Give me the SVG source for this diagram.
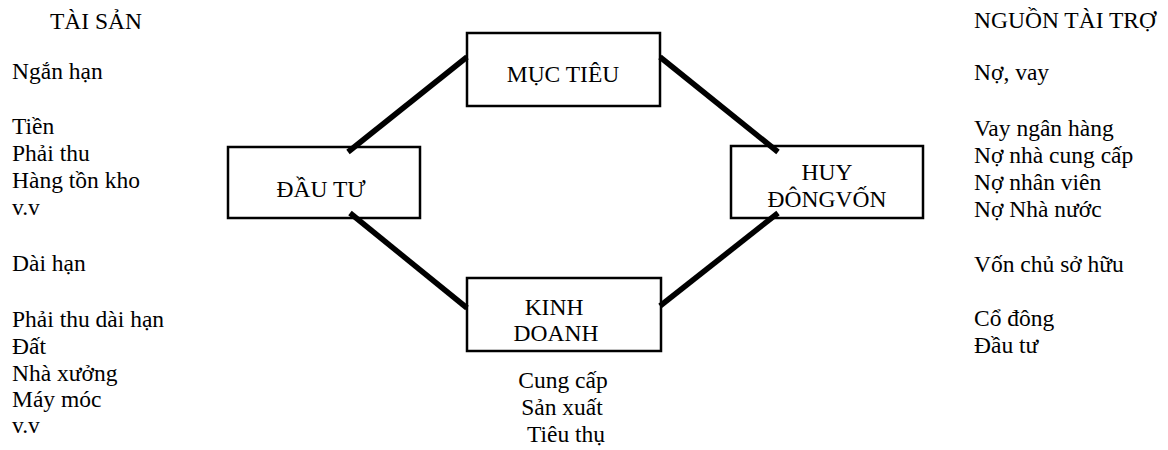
<svg xmlns="http://www.w3.org/2000/svg" width="1168" height="450" viewBox="0 0 1168 450">
<style>
text{font-family:"Liberation Serif","Times New Roman",serif;font-size:23.5px;fill:#000}
.box{fill:#fff;stroke:#000;stroke-width:2.5}
.c{text-anchor:middle}
.conn line{stroke:#000;stroke-width:5.5;stroke-linecap:butt}
</style>
<rect width="1168" height="450" fill="#fff"/>
<g id="left-col">
<text x="50" y="29">TÀI SẢN</text>
<text x="12" y="79">Ngắn hạn</text>
<text x="12" y="134">Tiền</text>
<text x="12" y="161">Phải thu</text>
<text x="12" y="188">Hàng tồn kho</text>
<text x="12" y="215">v.v</text>
<text x="12" y="271">Dài hạn</text>
<text x="12" y="327">Phải thu dài hạn</text>
<text x="12" y="354">Đất</text>
<text x="12" y="381">Nhà xưởng</text>
<text x="12" y="407">Máy móc</text>
<text x="12" y="433">v.v</text>
</g>
<g id="right-col">
<text x="974" y="28">NGUỒN TÀI TRỢ</text>
<text x="974" y="80">Nợ, vay</text>
<text x="974" y="136">Vay ngân hàng</text>
<text x="974" y="163">Nợ nhà cung cấp</text>
<text x="974" y="190">Nợ nhân viên</text>
<text x="974" y="217">Nợ Nhà nước</text>
<text x="974" y="272">Vốn chủ sở hữu</text>
<text x="974" y="326">Cổ đông</text>
<text x="974" y="353">Đầu tư</text>
</g>
<g id="node-muc-tieu">
<rect class="box" x="467" y="33" width="193" height="73"/>
<text class="c" x="563" y="82">MỤC TIÊU</text>
</g>
<g id="node-dau-tu">
<rect class="box" x="228" y="147" width="192" height="71"/>
<text class="c" x="321" y="197">ĐẦU TƯ</text>
</g>
<g id="node-huy-dong-von">
<rect class="box" x="731" y="146" width="192" height="72"/>
<text class="c" x="827" y="180">HUY</text>
<text class="c" x="827" y="207">ĐÔNGVỐN</text>
</g>
<g id="node-kinh-doanh">
<rect class="box" x="467" y="278" width="194" height="73"/>
<text class="c" x="554" y="315">KINH</text>
<text class="c" x="556" y="341">DOANH</text>
</g>
<g id="kinh-doanh-notes">
<text class="c" x="563" y="388">Cung cấp</text>
<text class="c" x="562" y="415">Sản xuất</text>
<text class="c" x="566" y="442">Tiêu thụ</text>
</g>
<g id="connectors" class="conn">
<line x1="467" y1="57" x2="348" y2="152"/>
<line x1="660" y1="57" x2="778" y2="152"/>
<line x1="350" y1="213" x2="467" y2="308"/>
<line x1="778" y1="213" x2="660" y2="306"/>
</g>
</svg>
